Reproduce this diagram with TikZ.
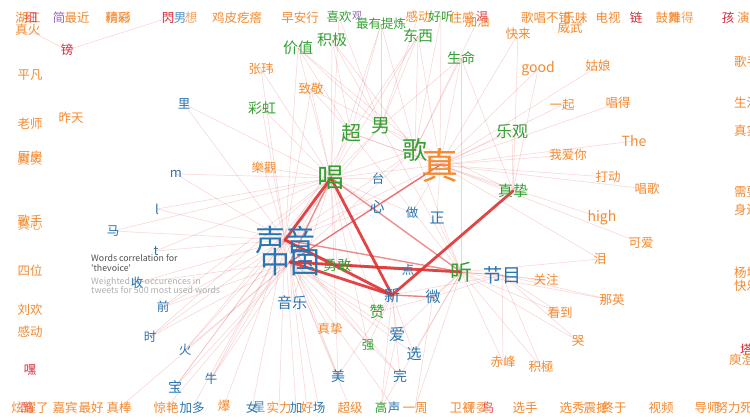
\documentclass[tikz,border=0pt]{standalone}
\usepackage{fontspec}
\setmainfont{Noto Sans CJK SC}
\newfontfamily\capfont{Noto Sans CJK SC}
\usetikzlibrary{backgrounds}
\definecolor{co}{RGB}{244,138,48}
\definecolor{cg}{RGB}{52,160,52}
\definecolor{cb}{RGB}{40,118,178}
\definecolor{cr}{RGB}{214,40,56}
\definecolor{cp}{RGB}{148,103,189}
\definecolor{edge}{RGB}{222,50,50}
\definecolor{capA}{RGB}{80,80,80}
\definecolor{capB}{RGB}{175,175,175}
\tikzset{
  lbl/.style={inner sep=0pt, font=\fontsize{12.5}{12.5}\selectfont},
  sz/.style={font=\fontsize{#1}{#1}\selectfont},
  o/.style={text=co}, g/.style={text=cg}, b/.style={text=cb}, r/.style={text=cr}, p/.style={text=cp},
  faint/.style={draw=edge, line width=0.5pt, draw opacity=0.22},
  midedge/.style={draw=edge, line width=1.4pt, draw opacity=0.55},
  strong/.style={draw=edge, line width=2.8pt, draw opacity=0.9, line cap=round},
}
\begin{document}
\begin{tikzpicture}[x=1pt,y=-1pt]
\useasboundingbox (0,0) rectangle (750,418);
% ---- top row
\node[lbl,o] (t01) at (28,18) {湖江};
\node[lbl,r,text opacity=0.7] (t02) at (31,18) {细};
\node[lbl,o] (t03) at (28,30) {真火};
\node[lbl,p] (t04) at (59,18) {简};
\node[lbl,o] (t05) at (77,18) {最近};
\node[lbl,o] (t06) at (118,18) {精彩};
\node[lbl,o,text opacity=0.7] (t07) at (118,18) {磅礴};
\node[lbl,r] (t08) at (168,18) {閃};
\node[lbl,b,text opacity=0.8] (t09) at (180,18) {男};
\node[lbl,o,text opacity=0.8] (t10) at (191,18) {想};
\node[lbl,o] (t11) at (237,18) {鸡皮疙瘩};
\node[lbl,o] (t12) at (300,18) {早安行};
\node[lbl,g] (t13) at (339,17) {喜欢};
\node[lbl,p,sz=10] (t14) at (357,16) {观};
\node[lbl,g] (t15) at (381,24) {最有提炼};
\node[lbl,o] (t16) at (418,17) {感动};
\node[lbl,g] (t17) at (441,17) {好听};
\node[lbl,o] (t18) at (462,18) {住感};
\node[lbl,o] (t19) at (477,22) {加油};
\node[lbl,r,text opacity=0.8] (t19b) at (482,17) {渴};
\node[lbl,g,sz=15] (t20) at (418,36) {东西};
\node[lbl,o] (t21) at (518,34) {快来};
\node[lbl,o] (t22) at (546,18) {歌唱不错};
\node[lbl,o] (t23) at (575,18) {乐味};
\node[lbl,o] (t24) at (570,28) {威武};
\node[lbl,o] (t25) at (608,18) {电视};
\node[lbl,r] (t26) at (636,18) {链};
\node[lbl,o] (t27) at (668,18) {鼓舞};
\node[lbl,o,text opacity=0.8] (t28) at (681,18) {难得};
\node[lbl,r] (t29) at (728,18) {孩};
\node[lbl,o,anchor=west] (t30) at (737,18) {演};
% ---- left column
\node[lbl,o] (l1) at (30,75) {平凡};
\node[lbl,o] (l2) at (30,124) {老师};
\node[lbl,o] (l3) at (30,157) {厨房};
\node[lbl,o,text opacity=0.8] (l3b) at (30,160) {真实};
\node[lbl,o] (l4) at (30,221) {歌手};
\node[lbl,o,text opacity=0.8] (l4b) at (30,225) {真心};
\node[lbl,o] (l5) at (30,271) {四位};
\node[lbl,o] (l6) at (30,310) {刘欢};
\node[lbl,o] (l7) at (30,332) {感动};
\node[lbl,r] (l8) at (30,370) {嘿};
% ---- right column (clipped)
\node[lbl,o,anchor=west] (r1) at (734,62) {歌手};
\node[lbl,o,anchor=west] (r2) at (734,103) {生活};
\node[lbl,o,anchor=west] (r3) at (734,131) {真实};
\node[lbl,o,anchor=west] (r4) at (734,192) {需要};
\node[lbl,o,anchor=west] (r5) at (734,210) {身边};
\node[lbl,o,anchor=west] (r6) at (734,273) {杨坤};
\node[lbl,o,anchor=west] (r7) at (734,286) {快乐};
\node[lbl,r,anchor=west] (r8) at (740,350) {塔};
\node[lbl,o,anchor=west] (r9) at (729,360) {庾澄庆};
% ---- bottom row
\node[lbl,o] (b01) at (30,408) {炫耀了};
\node[lbl,r,text opacity=0.6] (b02) at (27,408) {酷};
\node[lbl,o] (b03) at (65,408) {嘉宾};
\node[lbl,o] (b04) at (91,408) {最好};
\node[lbl,o] (b05) at (119,408) {真棒};
\node[lbl,o] (b06) at (166,408) {惊艳};
\node[lbl,b] (b07) at (192,408) {加多};
\node[lbl,o] (b08) at (224,406) {爆};
\node[lbl,b] (b09) at (252,408) {女};
\node[lbl,b,text opacity=0.8] (b10) at (259,407) {星};
\node[lbl,o] (b11) at (279,408) {实力};
\node[lbl,b] (b12) at (296,408) {加};
\node[lbl,o] (b13) at (307,408) {好};
\node[lbl,b] (b14) at (319,408) {场};
\node[lbl,o] (b15) at (350,408) {超级};
\node[lbl,g] (b16) at (381,408) {高};
\node[lbl,b] (b17) at (394,408) {声};
\node[lbl,o] (b18) at (415,408) {一周};
\node[lbl,o] (b19) at (462,408) {卫视};
\node[lbl,o,text opacity=0.8] (b20) at (476,408) {评委};
\node[lbl,r,text opacity=0.8] (b21) at (488,408) {鸟};
\node[lbl,o] (b22) at (525,408) {选手};
\node[lbl,o] (b23) at (572,408) {选秀};
\node[lbl,o] (b24) at (596,408) {震撼};
\node[lbl,o] (b25) at (614,408) {终于};
\node[lbl,o] (b26) at (661,408) {视频};
\node[lbl,o] (b27) at (707,408) {导师};
\node[lbl,o] (b28) at (728,408) {努力};
\node[lbl,o,anchor=west] (b29) at (740,408) {死};
% ---- interior
\node[lbl,r] (bang) at (67,50) {镑};
\node[lbl,g,sz=15] (jiji) at (332,40) {积极};
\node[lbl,g,sz=15] (jiazhi) at (298,48) {价值};
\node[lbl,g,sz=14] (shengming) at (461,58) {生命};
\node[lbl,o,sz=14] (good) at (538,69) {good};
\node[lbl,o] (guniang) at (598,66) {姑娘};
\node[lbl,o] (zhangwei) at (261,69) {张玮};
\node[lbl,o] (zhijing) at (311,89) {致敬};
\node[lbl,o] (yiqi) at (562,105) {一起};
\node[lbl,o] (changde) at (618,103) {唱得};
\node[lbl,b] (li) at (184,104) {里};
\node[lbl,g,sz=14] (caihong) at (262,108) {彩虹};
\node[lbl,o] (zuotian) at (71,118) {昨天};
\node[lbl,g,sz=20] (chao) at (351,133) {超};
\node[lbl,g,sz=19] (nan) at (381,126) {男};
\node[lbl,g,sz=16] (leguan) at (512,131) {乐观};
\node[lbl,o,sz=14] (the) at (634,141) {The};
\node[lbl,g,sz=25] (ge) at (415,150) {歌};
\node[lbl,o,sz=37] (zhen) at (440,165) {真};
\node[lbl,o] (woaini) at (568,155) {我爱你};
\node[lbl,g,sz=27] (chang) at (331,178) {唱};
\node[lbl,o] (leguanT) at (264,168) {樂觀};
\node[lbl,b] (tai) at (378,179) {台};
\node[lbl,o] (dadong) at (608,177) {打动};
\node[lbl,o] (changge) at (647,189) {唱歌};
\node[lbl,b,sz=13] (em) at (176,174) {m};
\node[lbl,g,sz=15] (zhenzhi) at (513,191) {真挚};
\node[lbl,b,sz=15] (xin) at (377,207) {心};
\node[lbl,b,sz=13] (el) at (157,209) {l};
\node[lbl,b] (zuo) at (412,213) {做};
\node[lbl,b,sz=15] (zheng) at (437,218) {正};
\node[lbl,o,sz=14] (high) at (602,218) {high};
\node[lbl,b] (ma) at (113,231) {马};
\node[lbl,o] (keai) at (641,243) {可爱};
\node[lbl,b,sz=13] (te) at (156,251) {t};
\node[lbl,o] (lei) at (600,259) {泪};
\node[lbl,o] (guanzhu) at (546,280) {关注};
\node[lbl,b] (qian) at (163,307) {前};
\node[lbl,o] (nays) at (612,300) {那英};
\node[lbl,o] (kandao) at (560,313) {看到};
\node[lbl,o] (zhenzhiO) at (330,329) {真挚};
\node[lbl,b] (shi) at (150,337) {时};
\node[lbl,o] (ku) at (578,341) {哭};
\node[lbl,g] (qiang) at (368,345) {强};
\node[lbl,b] (huo) at (185,350) {火};
\node[lbl,b,sz=15] (xuan) at (414,354) {选};
\node[lbl,o] (chifeng) at (503,362) {赤峰};
\node[lbl,o] (jijiO) at (541,367) {积極};
\node[lbl,b,sz=14] (mei) at (338,376) {美};
\node[lbl,b,sz=14] (wan) at (400,376) {完};
\node[lbl,b] (niu) at (211,379) {牛};
\node[lbl,b,sz=14] (bao) at (175,387) {宝};
% caption
\node[inner sep=0pt, anchor=north west, align=left, text=capA, font=\capfont\fontsize{8.8}{10}\selectfont] (cap1) at (91,254) {Words correlation for\\'thevoice'};
\node[inner sep=0pt, anchor=north west, align=left, text=capB, font=\capfont\fontsize{8.8}{9.5}\selectfont] (cap2) at (91,277) {Weighted co-occurences in\\tweets for 500 most used words};
\node[lbl,b] (shou) at (137,283) {收};
\node[lbl,b,sz=30] (shengyin) at (285,240) {声音};
\node[lbl,b,sz=30] (zhongguo) at (290,262) {中国};
\node[lbl,g,sz=14] (yonggan) at (337,265) {勇敢};
\node[lbl,b] (dian) at (408,270) {点};
\node[lbl,g,sz=22] (ting) at (461,272) {听};
\node[lbl,b,sz=19] (jiemu) at (502,275) {节目};
\node[lbl,b,sz=16] (xinw) at (392,295) {新};
\node[lbl,b,sz=15] (wei) at (433,297) {微};
\node[lbl,b,sz=15] (yinyue) at (292,303) {音乐};
\node[lbl,g,sz=15] (zan) at (377,312) {赞};
\node[lbl,b,sz=16] (ai) at (397,334) {爱};
% ---- edges
\begin{pgfonlayer}{background}
\fill[white] (0,0) rectangle (750,418);
\foreach \a/\b in {bang/t08, bang/t03, li/shengyin,
  chang/jiazhi, chang/jiji, chang/zhijing, chang/zhangwei, chang/caihong, chang/leguanT, chang/li, chang/em,
  chang/nan, chang/chao, chang/ge, chang/zhen, chang/t20, chang/t15, chang/tai, chang/xin, chang/yonggan,
  chang/yinyue, chang/zan, chang/qiang, chang/mei, chang/niu, chang/huo, chang/bao, chang/shi, chang/qian,
  chang/ma, chang/el, chang/te, chang/t13, chang/zuo,
  zhen/yiqi, zhen/woaini, zhen/dadong, zhen/changge, zhen/leguan, zhen/shengming, zhen/good, zhen/t21,
  zhen/high, zhen/keai, zhen/lei, zhen/nan, zhen/chao, zhen/xin, zhen/zuo, zhen/zheng, zhen/t20,
  zhen/guniang, zhen/changde, zhen/the, zhen/shengyin, zhen/zhongguo, zhen/jiazhi, zhen/t17,
  shengyin/leguanT, shengyin/em, shengyin/el, shengyin/ma, shengyin/te, shengyin/shou, shengyin/qian,
  shengyin/shi, shengyin/huo, shengyin/bao, shengyin/niu, shengyin/b07, shengyin/b08, shengyin/b09,
  shengyin/b11, shengyin/b12, shengyin/caihong, shengyin/jiazhi, shengyin/zhijing, shengyin/zhangwei,
  shengyin/qiang, shengyin/mei, shengyin/wan, shengyin/ge, shengyin/nan, shengyin/chao, shengyin/xin,
  zhongguo/b06, zhongguo/b05, zhongguo/niu, zhongguo/bao, zhongguo/huo, zhongguo/shi, zhongguo/qian,
  zhongguo/shou, zhongguo/yinyue, zhongguo/zhenzhiO, zhongguo/zan, zhongguo/ai, zhongguo/xuan,
  zhongguo/wan, zhongguo/mei, zhongguo/b15, zhongguo/b17, zhongguo/b14, zhongguo/b13, zhongguo/ge,
  zhongguo/zhen, zhongguo/jiemu,
  ting/jiemu, ting/wei, ting/dian, ting/chifeng, ting/jijiO, ting/guanzhu, ting/kandao, ting/nays,
  ting/ku, ting/lei, ting/shengming, ting/b18, ting/xuan, ting/wan, ting/ai, ting/nan, ting/chao,
  ting/ge, ting/zheng,
  xinw/wei, xinw/ai, xinw/xuan, xinw/qiang, xinw/zan, xinw/wan, xinw/b16, xinw/mei, xinw/jiemu,
  nan/t20, nan/t15, nan/jiji, nan/jiazhi, nan/shengming, nan/t16, nan/t13, nan/zhijing,
  ge/t20, ge/shengming, ge/t15, ge/jiji, ge/t17, ge/t19,
  jiemu/chifeng, jiemu/jijiO, jiemu/guanzhu, jiemu/kandao, jiemu/ku, jiemu/nays, jiemu/wei,
  zhenzhi/t21, zhenzhi/good, zhenzhi/leguan, zhenzhi/shengming, zhenzhi/nan, zhenzhi/chao,
  chao/jiji, chao/jiazhi, chao/t15, chao/t20, chao/zhijing, wei/b18, ai/b16, wan/b16, wei/zan}
  \draw[faint] (\a.center) -- (\b.center);
\foreach \a/\b in {chang/ting, shengyin/ting, zhongguo/dian, shengyin/yonggan, xinw/wei, zhongguo/zhen, chang/zhongguo}
  \draw[midedge] (\a.center) -- (\b.center);
\foreach \a/\b in {chang/shengyin, chang/xinw, zhenzhi/xinw, zhongguo/ting, zhongguo/xinw, shengyin/xinw}
  \draw[strong] (\a.center) -- (\b.center);
\end{pgfonlayer}
\end{tikzpicture}
\end{document}
